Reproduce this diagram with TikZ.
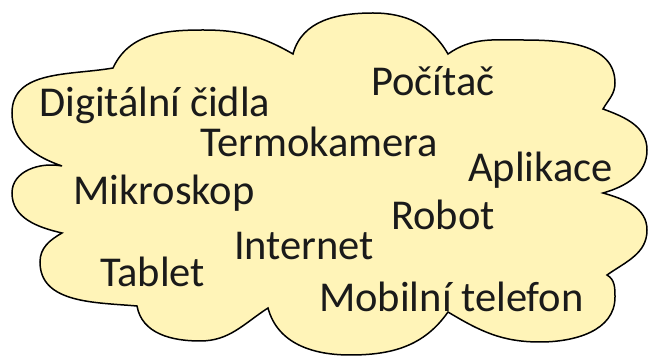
\documentclass[tikz,border=0pt]{standalone}
\usepackage{fontspec}
\setmainfont{Carlito}
\definecolor{cloudfill}{HTML}{FFF4B8}
\definecolor{ink}{HTML}{1A1A1A}
\begin{document}
\begin{tikzpicture}[x=1pt,y=1pt,
  word/.style={anchor=base west,inner sep=0pt,text=ink,font=\fontsize{42.5}{42.5}\selectfont},
  cloudline/.style={draw=black,line width=1.5pt,fill=cloudfill,line join=miter}]
\useasboundingbox (0,0) rectangle (648,356);
% cusps between the bumps
\coordinate (p1) at (113,288);
\coordinate (p2) at (293,302);
\coordinate (p3) at (448,302);
\coordinate (p4) at (603,247);
\coordinate (p5) at (603,163);
\coordinate (p6) at (607,81);
\coordinate (p7) at (448,44);
\coordinate (p8) at (268,48);
\coordinate (p9) at (137,50);
\coordinate (p10) at (62,123);
\coordinate (p11) at (62,190);
% cloud outline, clockwise from the top left
\path[cloudline]
  (p1) to[out=65,in=180] (203,326) to[out=0,in=150] (p2)
       to[out=75,in=180] (373,343) to[out=0,in=120] (p3)
       to[out=35,in=180] (522,316) to[out=0,in=90] (615,273) to[out=270,in=60] (p4)
       to[out=-20,in=90] (647,206) to[out=270,in=16] (p5)
       to[out=-16,in=90] (647,126) to[out=270,in=35] (p6)
       to[out=-30,in=90] (615,59) to[out=270,in=0] (540,14) to[out=180,in=-31] (p7)
       to[out=235,in=0] (350,1) to[out=180,in=-75] (p8)
       to[out=213,in=0] (200,15) to[out=180,in=-80] (p9)
       to[out=175,in=270] (40,94) to[out=90,in=210] (p10)
       to[out=167,in=270] (12,163) to[out=90,in=169] (p11)
       to[out=161,in=270] (12,243) to[out=90,in=190] (p1)
  -- cycle;
% words
\node[word] (digi)  at (39,239)  {Digitální čidla};
\node[word] (termo) at (200,199) {Termokamera};
\node[word] (pc)    at (371,260) {Počítač};
\node[word] (apl)   at (468,174) {Aplikace};
\node[word] (mikro) at (73,151)  {Mikroskop};
\node[word] (robot) at (391,126) {Robot};
\node[word] (inet)  at (234,96)  {Internet};
\node[word] (tab)   at (100,69)  {Tablet};
\node[word] (mob)   at (319,44)  {Mobilní telefon};
\end{tikzpicture}
\end{document}
